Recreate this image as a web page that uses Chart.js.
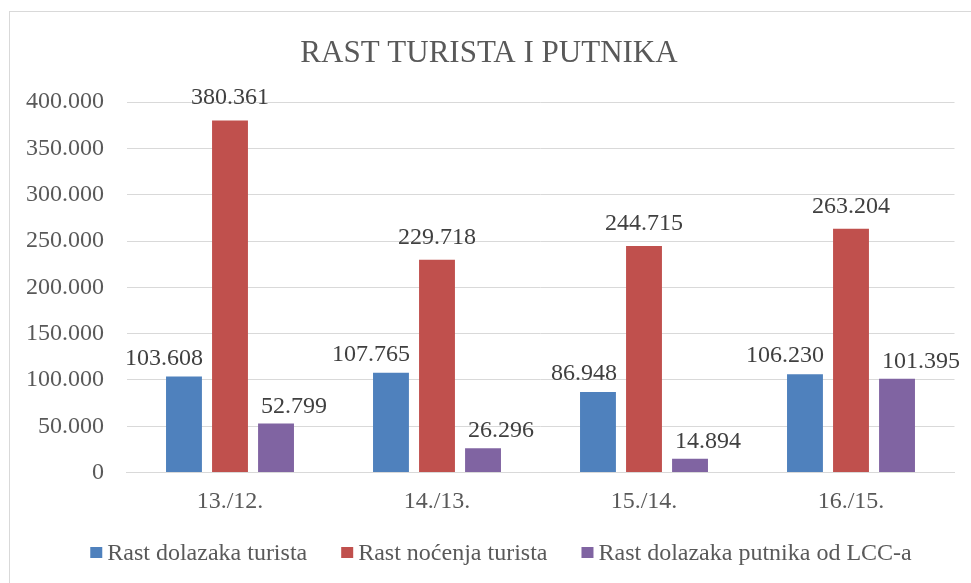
<!DOCTYPE html>
<html>
<head>
<meta charset="utf-8">
<title>Rast turista i putnika</title>
<script src="https://cdn.jsdelivr.net/npm/chart.js@4.4.1/dist/chart.umd.min.js"></script>
<style>
  body { margin: 0; background: #fff; overflow: hidden; }
  #frame {
    position: absolute; left: 9px; top: 11px;
    width: 1000px; height: 620px;
    border: 1px solid #d9d9d9;
  }
  #wrap { position: absolute; left: 0; top: 0; width: 971px; height: 583px; }
</style>
</head>
<body>
<div id="frame"></div>
<div id="wrap"><canvas id="mycanvas"></canvas></div>
<script>
var periods = ['13./12.', '14./13.', '15./14.', '16./15.'];
var dolasci = [103608, 107765, 86948, 106230];
var nocenja = [380361, 229718, 244715, 263204];
var lccPutnici = [52799, 26296, 14894, 101395];
var seriesNames = ['Rast dolazaka turista', 'Rast noćenja turista', 'Rast dolazaka putnika od LCC-a'];
var seriesColors = ['#4f81bd', '#c0504d', '#8064a2'];

var serif = "'Liberation Serif', 'Times New Roman', serif";

function fmt(v) {
	return String(v).replace(/\B(?=(\d{3})+(?!\d))/g, '.');
}

// value labels above bars: blue to the right edge, red centred, purple from the left edge
var barLabels = {
	id: 'barLabels',
	afterDatasetsDraw: function(chart) {
		var ctx = chart.ctx;
		var aligns = ['right', 'center', 'left'];
		var lift = [12, 16, 11];
		ctx.save();
		ctx.font = '24px ' + serif;
		ctx.fillStyle = '#404040';
		ctx.textBaseline = 'alphabetic';
		chart.data.datasets.forEach(function(ds, di) {
			var meta = chart.getDatasetMeta(di);
			meta.data.forEach(function(bar, i) {
				var x = bar.x;
				if (aligns[di] == 'right') x = bar.x + bar.width / 2 + 1;
				if (aligns[di] == 'left') x = bar.x - bar.width / 2 + 3;
				ctx.textAlign = aligns[di];
				ctx.fillText(fmt(ds.data[i]), x, bar.y - lift[di]);
			});
		});
		ctx.restore();
	}
};

// legend row under the axis, small square then the series name
var bottomLegend = {
	id: 'bottomLegend',
	afterDraw: function(chart) {
		var ctx = chart.ctx;
		var box = 12, gap = 5, spacing = 34;
		var baseline = 560;
		ctx.save();
		ctx.font = '24px ' + serif;
		ctx.textBaseline = 'alphabetic';
		ctx.textAlign = 'left';
		var total = 0;
		chart.data.datasets.forEach(function(ds, i) {
			total += box + gap + ctx.measureText(ds.label).width;
			if (i > 0) total += spacing;
		});
		var x = 501 - total / 2;
		chart.data.datasets.forEach(function(ds) {
			ctx.fillStyle = ds.backgroundColor;
			ctx.fillRect(x, baseline - 13, box, 11);
			x += box + gap;
			ctx.fillStyle = '#595959';
			ctx.fillText(ds.label, x, baseline);
			x += ctx.measureText(ds.label).width + spacing;
		});
		ctx.restore();
	}
};

var chartdata = {
	labels: periods,
	datasets: [
		{ label: seriesNames[0], data: dolasci, backgroundColor: seriesColors[0] },
		{ label: seriesNames[1], data: nocenja, backgroundColor: seriesColors[1] },
		{ label: seriesNames[2], data: lccPutnici, backgroundColor: seriesColors[2] }
	]
};

var ctx = document.getElementById('mycanvas');

var barGraph = new Chart(ctx, {
	type: 'bar',
	data: chartdata,
	plugins: [barLabels, bottomLegend],
	options: {
		responsive: true,
		maintainAspectRatio: false,
		animation: false,
		events: [],
		layout: { padding: { left: 23.5, right: 16.5, top: 0, bottom: 65 } },
		datasets: {
			bar: { categoryPercentage: 0.667, barPercentage: 0.78 }
		},
		scales: {
			x: {
				grid: { display: false },
				border: { display: true, color: '#d9d9d9', width: 1 },
				ticks: { color: '#595959', font: { family: serif, size: 24 }, padding: 7 },
				afterFit: function(scale) { scale.height = 45.5; }
			},
			y: {
				min: 0,
				max: 400000,
				grid: { color: '#d9d9d9', drawTicks: false },
				border: { display: false },
				ticks: {
					stepSize: 50000,
					color: '#595959',
					font: { family: serif, size: 24 },
					padding: 22.5,
					callback: function(v) { return fmt(v); }
				},
				afterFit: function(scale) { scale.width = 103; }
			}
		},
		plugins: {
			title: {
				display: true,
				text: 'RAST TURISTA I PUTNIKA',
				color: '#595959',
				font: { family: serif, size: 31, weight: 'normal', lineHeight: 1.2 },
				padding: { top: 35, bottom: 30 }
			},
			legend: { display: false },
			tooltip: { enabled: false }
		}
	}
});
</script>
</body>
</html>
